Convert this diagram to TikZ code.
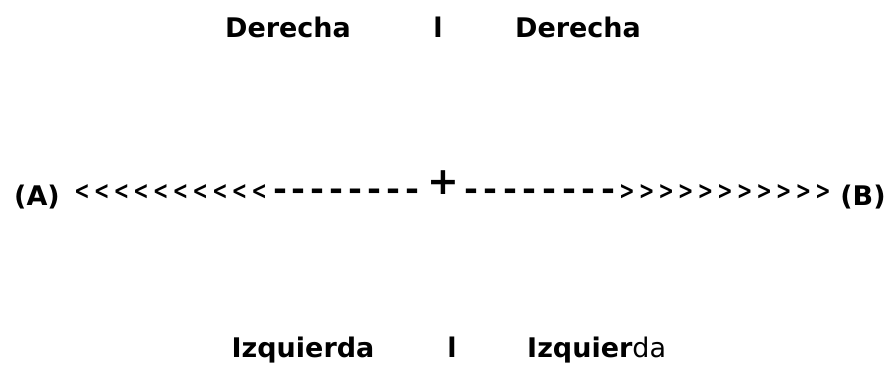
\documentclass[tikz,border=0pt]{standalone}
\usepackage{fontspec}
\setmainfont{DejaVu Sans}
\usetikzlibrary{positioning}
\tikzstyle{word} = [inner sep=0pt, anchor=base, font=\fontsize{27}{30}\selectfont\bfseries]
\tikzstyle{glyph} = [inner sep=0pt, anchor=base, xscale=0.75, font=\fontsize{25}{28}\selectfont\bfseries]
\tikzstyle{hyphenmark} = [inner sep=0pt, anchor=base, xscale=1.05, font=\fontsize{32}{36}\selectfont\bfseries]
\tikzstyle{cross} = [inner sep=0pt, font=\fontsize{38}{42}\selectfont\bfseries]

\begin{document}
\begin{tikzpicture}[x=1pt, y=-1pt]

    \useasboundingbox (0,0) rectangle (893,368);

    % top line
    \node (topL) [word] at (288,37) {Derecha};
    \node (topBar) [word] at (438,37) {l};
    \node (topR) [word] at (578,37) {Derecha};

    % middle line
    \node (A) [word] at (37,205) {(A)};
    \foreach \i in {0,...,9}
        \node (lt\i) [glyph] at (82+\i*19.7,199) {<};
    \foreach \i in {0,...,7}
        \node (dl\i) [hyphenmark] at (280+\i*18.9,200) {-};
    \node (plus) [cross] at (443,183) {+};
    \foreach \i in {0,...,7}
        \node (dr\i) [hyphenmark] at (471+\i*19.6,200) {-};
    \foreach \i in {0,...,10}
        \node (gt\i) [glyph] at (627+\i*19.6,199) {>};
    \node (B) [word] at (863,205) {(B)};

    % bottom line
    \node (botL) [word] at (303,357) {Izquierda};
    \node (botBar) [word] at (452,357) {l};
    \node (botR) [word, anchor=base west] at (527,357) {Izquier\mdseries da};

\end{tikzpicture}
\end{document}
